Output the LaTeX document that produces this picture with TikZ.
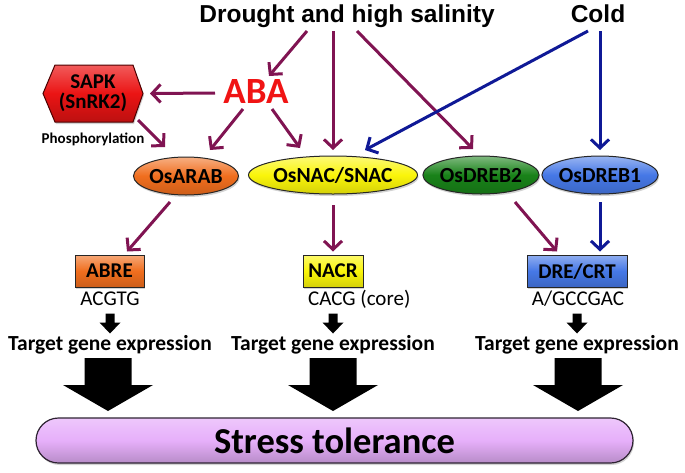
\documentclass[tikz,border=0pt]{standalone}
\usepackage{fontspec}
\setmainfont{Carlito}
\newfontfamily\arialfont{Liberation Sans}
\usetikzlibrary{arrows.meta,shapes.geometric,calc,shadows,backgrounds}
\definecolor{cMar}{RGB}{128,20,82}
\definecolor{cNav}{RGB}{15,25,150}
\definecolor{cABA}{RGB}{240,20,20}
\definecolor{cSapk}{RGB}{235,20,20}
\definecolor{cOra}{RGB}{240,110,30}
\definecolor{cYel}{RGB}{250,245,10}
\definecolor{cGrn}{RGB}{25,130,25}
\definecolor{cBlu}{RGB}{70,120,230}
\definecolor{cPill}{RGB}{230,175,250}
\newcommand\myfs[1]{\fontsize{#1}{#1}\selectfont}
\begin{document}
\begin{tikzpicture}[x=1pt,y=-1pt,
  mar/.style={draw=cMar, line width=3pt, -{Straight Barb[length=8.5pt,width=18pt]}},
  nav/.style={draw=cNav, line width=3pt, -{Straight Barb[length=8.5pt,width=18pt]}},
  shad/.style={drop shadow={shadow xshift=1pt, shadow yshift=-2pt, opacity=0.35}},
  ell/.style={ellipse, draw=black!85, line width=1pt, inner sep=0pt, minimum height=38pt,
     font=\bfseries\myfs{21.5}, text depth=0pt, shad,
     top color=#1!55!white, bottom color=#1!85!black, middle color=#1},
  motif/.style={rectangle, draw=black!85, line width=1pt, inner sep=0pt, minimum height=32pt,
     font=\bfseries\myfs{21}, text depth=0pt, shad,
     top color=#1!60!white, bottom color=#1!85!black, middle color=#1},
  seq/.style={font=\myfs{21}, inner sep=0pt},
  tge/.style={font=\bfseries\myfs{21.5}, inner sep=0pt, anchor=base},
  smallarr/.pic={\fill[black] (-4.5,0) -- (4.5,0) -- (4.5,9) -- (10.5,9) -- (0,20) -- (-10.5,9) -- (-4.5,9) -- cycle;},
  bigarr/.pic={\fill[black] (-23.5,0) -- (23.5,0) -- (23.5,27) -- (45,27) -- (0,53) -- (-45,27) -- (-23.5,27) -- cycle;}
]
\useasboundingbox (0,0) rectangle (685,472);

% top stimuli
\node[font=\arialfont\bfseries\myfs{24.5}, inner sep=0pt, anchor=base] (dr) at (347,22) {Drought and high salinity};
\node[font=\arialfont\bfseries\myfs{24.5}, inner sep=0pt, anchor=base] (cold) at (598,22) {Cold};

% ABA and SAPK
\node[font=\bfseries\myfs{37}, text=cABA, inner sep=0pt, anchor=base] (aba) at (256,103) {ABA};
\node[font=\bfseries\fontsize{21}{20}\selectfont, align=center, inner sep=0pt] (sapk) at (93,93.5) {SAPK\\(SnRK2)};
\begin{pgfonlayer}{background}
\path[draw=black!70!red, line width=1pt, top color=cSapk!70!white, bottom color=cSapk!80!black, middle color=cSapk, shad]
  ($(sapk)+(-50,0)$) -- ($(sapk)+(-38,-28.5)$) -- ($(sapk)+(40,-28.5)$) -- ($(sapk)+(50,0)$)
  -- ($(sapk)+(40,28.5)$) -- ($(sapk)+(-38,28.5)$) -- cycle;
\end{pgfonlayer}
\node[font=\bfseries\myfs{15}, inner sep=0pt, anchor=base] (phos) at (93,143) {Phosphorylation};

% transcription factors
\node[ell=cOra, minimum width=105pt] (arab) at (186,176) {OsARAB};
\node[ell=cYel, minimum width=169pt] (nac) at (333,175) {OsNAC/SNAC};
\node[ell=cGrn, minimum width=107pt] (dreb2) at (481,175) {OsDREB2};
\node[ell=cBlu, minimum width=106pt] (dreb1) at (600,175) {OsDREB1};

% cis elements
\node[motif=cOra, minimum width=69pt] (abre) at (109.5,271) {ABRE};
\node[motif=cYel, minimum width=60pt] (nacr) at (333,271) {NACR};
\node[motif=cBlu, minimum width=100pt] (dre) at (577,271) {DRE/CRT};

\node[seq, anchor=base] (m1) at (110,305) {ACGTG};
\node[seq, anchor=base west] (m2) at (308,305) {CACG (core)};
\node[seq, anchor=base] (m3) at (578,305) {A/GCCGAC};

\node[tge] (t1) at (110,350) {Target gene expression};
\node[tge] (t2) at (333,350) {Target gene expression};
\node[tge] (t3) at (577,350) {Target gene expression};

\pic at ($(abre.south)+(0.5,26)$) {smallarr};
\pic at ($(nacr.south)+(0,26)$) {smallarr};
\pic at ($(dre.south)+(0,26)$) {smallarr};

\pic at ($(t1.base)+(-2,8)$) {bigarr};
\pic at ($(t2.base)+(0,8)$) {bigarr};
\pic at ($(t3.base)+(1,8)$) {bigarr};

% stress tolerance
\node[rectangle, rounded corners=22.5pt, minimum width=597pt, minimum height=45pt, inner sep=0pt,
  draw=black!80!cPill, line width=1.2pt, top color=cPill!70!white, bottom color=cPill!80!black, middle color=cPill, shad,
  font=\bfseries\myfs{36.5}] (pill) at (334.5,440.5) {Stress tolerance};

% connectors
\draw[mar] ($(dr.base)+(-40,9)$) -- ($(aba.base)+(13,-27)$);
\draw[mar] ($(dr.base)+(-14,9)$) -- ($(nac)+(0,-25)$);
\draw[mar] ($(dr.base)+(10,9)$) -- ($(dreb2)+(-8,-26)$);
\draw[nav] ($(cold.base)+(-10,9)$) -- ($(nac)+(32,-25)$);
\draw[nav] ($(cold.base)+(2,9)$) -- ($(dreb1)+(0,-25)$);
\draw[mar] ($(aba.base)+(-41,-10)$) -- ($(sapk)+(57,0)$);
\draw[mar] ($(sapk)+(45,26.5)$) -- ($(arab)+(-21,-29)$);
\draw[mar] ($(aba.base)+(-13,6)$) -- ($(arab)+(24,-26)$);
\draw[mar] ($(aba.base)+(16,6)$) -- ($(nac)+(-33,-27)$);
\draw[mar] ($(arab)+(-16,26)$) -- ($(abre.north)+(17.5,-3)$);
\draw[mar] ($(nac)+(0,30)$) -- ($(nacr.north)+(0,-3)$);
\draw[mar] ($(dreb2)+(34,27)$) -- ($(dre.north)+(-20,-3)$);
\draw[nav] ($(dreb1)+(0,27)$) -- ($(dre.north)+(23,-3)$);
\end{tikzpicture}
\end{document}
